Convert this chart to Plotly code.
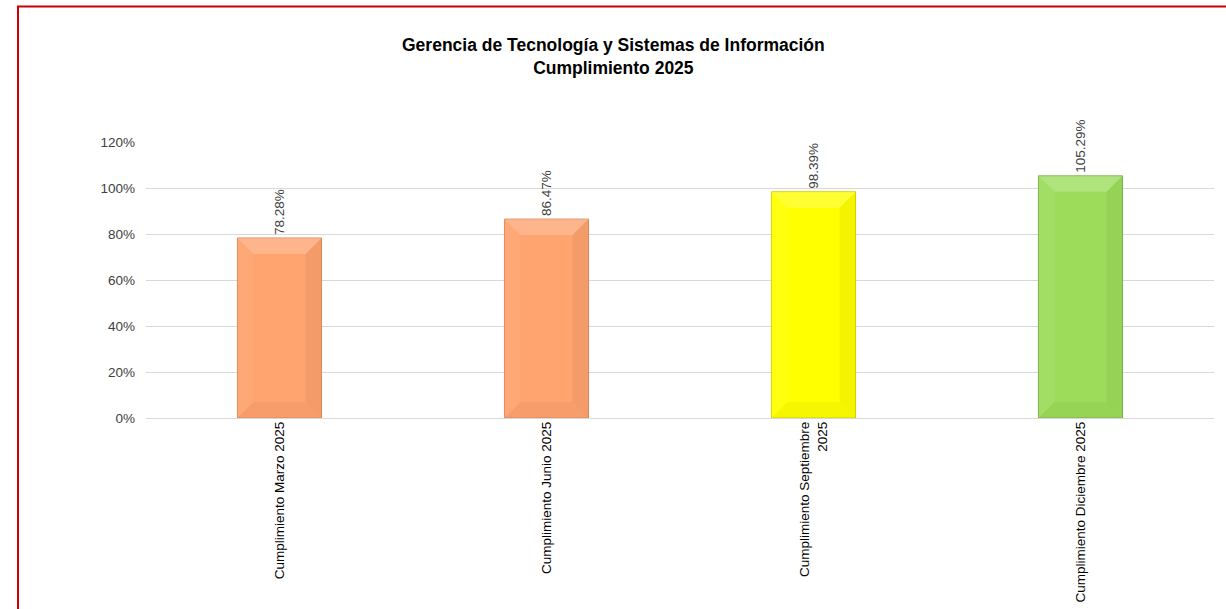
import plotly.graph_objects as go

categories = ["Cumplimiento Marzo 2025", "Cumplimiento Junio 2025",
              "Cumplimiento Septiembre<br>2025", "Cumplimiento Diciembre 2025"]
values = [78.28, 86.47, 98.39, 105.29]
labels = ["78.28%", "86.47%", "98.39%", "105.29%"]
colors = ["#FFA36F", "#FFA36F", "#FFFF00", "#9CDC5A"]
edge_colors = ["#E08A5C", "#E08A5C", "#D4D400", "#7DB347"]
y_ticks = [0, 20, 40, 60, 80, 100, 120]
y_tick_text = ["0%", "20%", "40%", "60%", "80%", "100%", "120%"]
title_text = "<b>Gerencia de Tecnología y Sistemas de Información<br>Cumplimiento 2025</b>"

W, H = 1226, 609
ml, mr, mt, mb = 146, 12, 142, 191
pw = W - ml - mr
ph = H - mt - mb
bar_w = 0.315
positions = list(range(len(categories)))

fig = go.Figure()
fig.add_trace(go.Bar(
    x=positions, y=values, width=bar_w,
    marker=dict(color=colors, line=dict(color=edge_colors, width=1)),
    text=labels, textposition="outside", textangle=-90,
    textfont=dict(family="Liberation Sans, Arial", size=13.5, color="#404040"),
    cliponaxis=False, hovertext=categories, hoverinfo="text+y",
))

# bevel decoration derived from the bars
px_x = pw / (len(categories))      # pixels per category unit
px_y = ph / 120.0                  # pixels per y unit
dx = 16 / px_x
dy = 16 / px_y
hw = bar_w / 2
for i, v in zip(positions, values):
    L, R = i - hw, i + hw
    bands = [
        (f"M{L},{v} L{R},{v} L{R-dx},{v-dy} L{L+dx},{v-dy} Z", "rgba(255,255,255,0.20)"),
        (f"M{L},{v} L{L+dx},{v-dy} L{L+dx},{dy} L{L},0 Z", "rgba(255,255,255,0.06)"),
        (f"M{R},{v} L{R},0 L{R-dx},{dy} L{R-dx},{v-dy} Z", "rgba(0,0,0,0.045)"),
        (f"M{L},0 L{R},0 L{R-dx},{dy} L{L+dx},{dy} Z", "rgba(0,0,0,0.035)"),
    ]
    for path, fc in bands:
        fig.add_shape(type="path", xref="x", yref="y", path=path,
                      fillcolor=fc, line=dict(width=0), layer="above")

fig.add_shape(type="rect", xref="paper", yref="paper",
              x0=(18 - ml) / pw, x1=(W + 10 - ml) / pw,
              y0=-(H + 10 - (H - mb)) / ph, y1=((H - mb) - 6.5) / ph,
              line=dict(color="#CC0000", width=2), fillcolor="rgba(0,0,0,0)",
              layer="above")

fig.add_annotation(text=title_text, xref="paper", yref="paper",
                   x=(W / 2 - ml) / pw, y=((H - mb) - 57) / ph,
                   xanchor="center", yanchor="middle", showarrow=False,
                   align="center",
                   font=dict(family="Liberation Sans, Arial", size=17.5, color="#000000"))

fig.update_layout(
    width=W, height=H,
    margin=dict(l=ml, r=mr, t=mt, b=mb, pad=0),
    paper_bgcolor="white", plot_bgcolor="white",
    showlegend=False,
    font=dict(family="Liberation Sans, Arial", size=13.5, color="#404040"),
    xaxis=dict(tickmode="array", tickvals=positions, ticktext=categories,
               range=[-0.5, len(categories) - 0.5],
               tickangle=-90, showgrid=False, showline=False, ticks="",
               zeroline=False,
               tickfont=dict(size=13.5, color="#000000"), automargin=False),
    yaxis=dict(range=[0, 120], tickvals=y_ticks, ticktext=y_tick_text,
               showgrid=True, gridcolor="#D9D9D9", gridwidth=1,
               zeroline=True, zerolinecolor="#D9D9D9", zerolinewidth=1,
               showline=False, ticks="", ticklabelstandoff=10,
               tickfont=dict(size=13.5, color="#404040"), automargin=False),
)

fig.write_html("out.html", config={"displayModeBar": False},
               post_script="document.body.style.margin='0';document.body.style.padding='0';")
